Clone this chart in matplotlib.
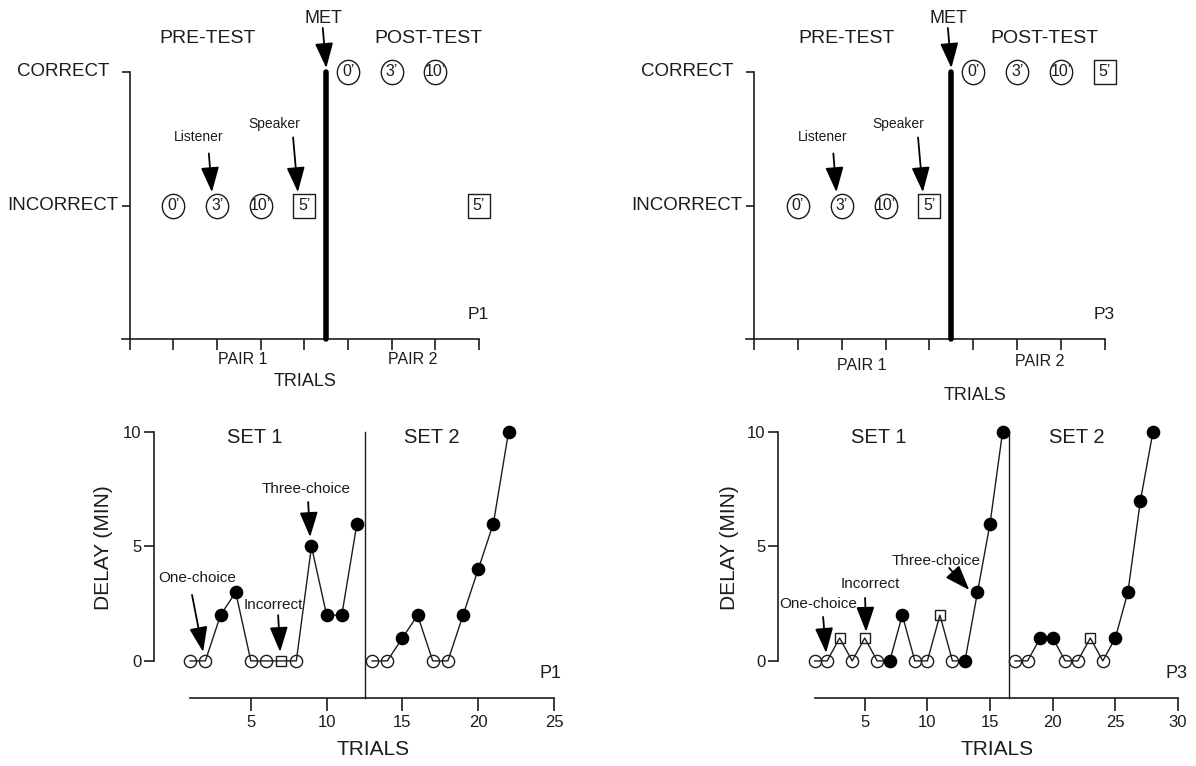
import numpy as np
import matplotlib
matplotlib.use('Agg')
import matplotlib.pyplot as plt
from matplotlib.path import Path

plt.rcParams['font.family'] = ['Liberation Sans', 'DejaVu Sans']
INK = '#1c1c1c'
plt.rc('axes', edgecolor=INK, linewidth=1.2)
plt.rc('xtick', color=INK)
plt.rc('ytick', color=INK)
plt.rc('text', color=INK)

# %% data
# top panels: probe trials (1 = INCORRECT, 2 = CORRECT)
probe_x = [1, 2, 3, 4, 5, 6, 7, 8]
probe_lbl = ['0\u2019', '3\u2019', '10\u2019', '5\u2019', '0\u2019', '3\u2019', '10\u2019', '5\u2019']
probe_shape = ['o', 'o', 'o', 's', 'o', 'o', 'o', 's']
p1_probe_y = [1, 1, 1, 1, 2, 2, 2, 1]
p3_probe_y = [1, 1, 1, 1, 2, 2, 2, 2]
met_x = 4.5

# bottom panels: delay per trial, kind: o = open circle, f = filled, s = square
p1_set1_trial = [1, 2, 3, 4, 5, 6, 7, 8, 9, 10, 11, 12]
p1_set1_delay = [0, 0, 2, 3, 0, 0, 0, 0, 5, 2, 2, 6]
p1_set1_kind = ['o', 'o', 'f', 'f', 'o', 'o', 's', 'o', 'f', 'f', 'f', 'f']
p1_set2_trial = [13, 14, 15, 16, 17, 18, 19, 20, 21, 22]
p1_set2_delay = [0, 0, 1, 2, 0, 0, 2, 4, 6, 10]
p1_set2_kind = ['o', 'o', 'f', 'f', 'o', 'o', 'f', 'f', 'f', 'f']

p3_set1_trial = [1, 2, 3, 4, 5, 6, 7, 8, 9, 10, 11, 12, 13, 14, 15, 16]
p3_set1_delay = [0, 0, 1, 0, 1, 0, 0, 2, 0, 0, 2, 0, 0, 3, 6, 10]
p3_set1_kind = ['o', 'o', 's', 'o', 's', 'o', 'f', 'f', 'o', 'o', 's', 'o', 'f', 'f', 'f', 'f']
p3_set2_trial = [17, 18, 19, 20, 21, 22, 23, 24, 25, 26, 27, 28]
p3_set2_delay = [0, 0, 1, 1, 0, 0, 1, 0, 1, 3, 7, 10]
p3_set2_kind = ['o', 'o', 'f', 'f', 'o', 'o', 's', 'o', 'f', 'f', 'f', 'f']

W, H = 1196, 766
fig = plt.figure(figsize=(W / 100, H / 100), dpi=100)


def px_axes(l, r, b, t):
    return fig.add_axes([l / W, (H - b) / H, (r - l) / W, (b - t) / H])


def arrow(ax, tail, tip):
    ax.annotate('', xy=tip, xytext=tail, annotation_clip=False,
                arrowprops=dict(arrowstyle='-|>,head_length=1.1,head_width=0.4',
                                mutation_scale=14, lw=1.3, color='black',
                                fc='black', shrinkA=0, shrinkB=0))


# slightly tall ellipse / box markers for the probe plot
uc = Path.unit_circle()
ell = Path(uc.vertices * [0.92, 1.0], uc.codes)
box = Path([(-0.88, -1), (0.88, -1), (0.88, 1), (-0.88, 1), (-0.88, -1)],
           [Path.MOVETO, Path.LINETO, Path.LINETO, Path.LINETO, Path.CLOSEPOLY])


def probe_panel(ax, ys, tag, txt):
    ax.set_xlim(-0.18, 8)
    ax.set_ylim(0, 2)
    for s in ['top', 'right']:
        ax.spines[s].set_visible(False)
    ax.spines['left'].set_position(('data', 0))
    ax.spines['bottom'].set_bounds(-0.18, 8)
    ax.set_xticks(np.arange(0, 9))
    ax.set_xticklabels([])
    ax.tick_params(axis='x', direction='out', length=8, width=1.2)
    ax.set_yticks([1, 2])
    ax.set_yticklabels([])
    ax.tick_params(axis='y', direction='out', length=6, width=1.2)
    ax.annotate('CORRECT', xy=(0, 2), xytext=(-14.5, 0), textcoords='offset points',
                ha='right', va='center', fontsize=13.5, annotation_clip=False)
    ax.annotate('INCORRECT', xy=(0, 1), xytext=(-8, 0), textcoords='offset points',
                ha='right', va='center', fontsize=13.5, annotation_clip=False)

    ax.plot([met_x, met_x], [0, 2], color='black', lw=4, solid_capstyle='round',
            clip_on=False, zorder=3)
    for x, y, lb, sh in zip(probe_x, ys, probe_lbl, probe_shape):
        mk = ell if sh == 'o' else box
        ax.plot(x, y, marker=mk, ms=17.5, mfc='white', mec=INK, mew=1.0,
                clip_on=False, zorder=4)
        ax.text(x, y, lb, ha='center', va='center', fontsize=11.5, zorder=5)

    ax.text(txt['pre'], 2.25, 'PRE-TEST', ha='center', va='center', fontsize=14)
    ax.text(txt['post'], 2.25, 'POST-TEST', ha='center', va='center', fontsize=14)
    ax.text(4.43, 2.40, 'MET', ha='center', va='center', fontsize=13)
    arrow(ax, (4.42, 2.33), (4.5, 2.03))
    ax.text(1.57, 1.51, 'Listener', ha='center', va='center', fontsize=10)
    arrow(ax, (1.81, 1.39), (1.88, 1.10))
    ax.text(3.30, 1.61, 'Speaker', ha='center', va='center', fontsize=10)
    arrow(ax, (3.74, 1.51), (3.85, 1.10))
    ax.text(txt['pair1'][0], txt['pair1'][1], 'PAIR 1', ha='center', va='center', fontsize=11.5)
    ax.text(txt['pair2'][0], txt['pair2'][1], 'PAIR 2', ha='center', va='center', fontsize=11.5)
    ax.text(txt['trials'][0], txt['trials'][1], 'TRIALS', ha='center', va='center', fontsize=13)
    ax.text(7.98, 0.18, tag, ha='center', va='center', fontsize=12.5)


def plot_set(ax, trial, delay, kind):
    ax.plot(trial, delay, color=INK, lw=1.0, zorder=2, clip_on=False)
    for x, y, k in zip(trial, delay, kind):
        if k == 'f':
            ax.plot(x, y, 'o', ms=8.8, mfc='black', mec='black', zorder=3, clip_on=False)
        elif k == 'o':
            ax.plot(x, y, 'o', ms=8.8, mfc='none', mec=INK, mew=1.0, zorder=3, clip_on=False)
        else:
            ax.plot(x, y, 's', ms=7.8, mfc='none', mec=INK, mew=1.0, zorder=3, clip_on=False)


def delay_panel(ax, xmin, xmax, divider, ticks, tag, txt):
    ax.set_xlim(xmin, xmax)
    ax.set_ylim(-1.62, 10)
    for s in ['top', 'right']:
        ax.spines[s].set_visible(False)
    ax.spines['left'].set_bounds(0, 10)
    ax.spines['bottom'].set_bounds(1, xmax)
    ax.set_xticks(ticks)
    ax.set_yticks([0, 5, 10])
    ax.tick_params(axis='x', direction='out', length=9, width=1.2, labelsize=12, pad=3)
    ax.tick_params(axis='y', direction='out', length=7, width=1.2, labelsize=12, pad=2)
    ax.plot([divider, divider], [-1.62, 10], color=INK, lw=1.0, clip_on=False)
    ax.text(txt['set1'], 9.74, 'SET 1', ha='center', va='center', fontsize=14.5)
    ax.text(txt['set2'], 9.74, 'SET 2', ha='center', va='center', fontsize=14.5)
    ax.text(txt['tag'], -0.57, tag, ha='center', va='center', fontsize=13)
    ax.text(txt['trials'], -3.85, 'TRIALS', ha='center', va='center', fontsize=15)
    ax.text(txt['delay'], 4.93, 'DELAY (MIN)', ha='center', va='center', rotation=90, fontsize=15)


# %% top panels
ax1 = px_axes(122, 479, 339, 72)
probe_panel(ax1, p1_probe_y, 'P1',
            dict(pre=1.77, post=6.83, pair1=(2.59, -0.157), pair2=(6.47, -0.157), trials=(4.01, -0.32)))

ax2 = px_axes(746, 1105, 339, 72)
probe_panel(ax2, p3_probe_y, 'P3',
            dict(pre=2.12, post=6.63, pair1=(2.46, -0.195), pair2=(6.51, -0.17), trials=(5.03, -0.42)))

# %% bottom panels
ax3 = px_axes(154, 554, 698, 432)
plot_set(ax3, p1_set1_trial, p1_set1_delay, p1_set1_kind)
plot_set(ax3, p1_set2_trial, p1_set2_delay, p1_set2_kind)
delay_panel(ax3, -1.39, 25, 12.5, [5, 10, 15, 20, 25], 'P1',
            dict(set1=5.28, set2=16.96, trials=13.07, delay=-4.75, tag=24.75))
ax3.text(1.45, 3.62, 'One-choice', ha='center', va='center', fontsize=11)
arrow(ax3, (1.12, 2.88), (1.85, 0.39))
ax3.text(6.47, 2.45, 'Incorrect', ha='center', va='center', fontsize=11)
arrow(ax3, (6.8, 2.0), (6.93, 0.39))
ax3.text(8.65, 7.51, 'Three-choice', ha='center', va='center', fontsize=11)
arrow(ax3, (8.78, 6.94), (8.91, 5.41))

ax4 = px_axes(778, 1178, 698, 432)
plot_set(ax4, p3_set1_trial, p3_set1_delay, p3_set1_kind)
plot_set(ax4, p3_set2_trial, p3_set2_delay, p3_set2_kind)
delay_panel(ax4, -1.92, 30, 16.5, [5, 10, 15, 20, 25, 30], 'P3',
            dict(set1=6.15, set2=21.96, trials=15.57, delay=-5.83, tag=29.9))
ax4.text(1.28, 2.49, 'One-choice', ha='center', va='center', fontsize=11)
arrow(ax4, (1.68, 1.92), (1.92, 0.35))
ax4.text(5.43, 3.36, 'Incorrect', ha='center', va='center', fontsize=11)
arrow(ax4, (5.03, 2.75), (5.11, 1.27))
ax4.text(10.7, 4.37, 'Three-choice', ha='center', va='center', fontsize=11)
arrow(ax4, (11.74, 4.06), (13.34, 3.1))

fig.savefig('out.png', dpi=100, facecolor='white')
